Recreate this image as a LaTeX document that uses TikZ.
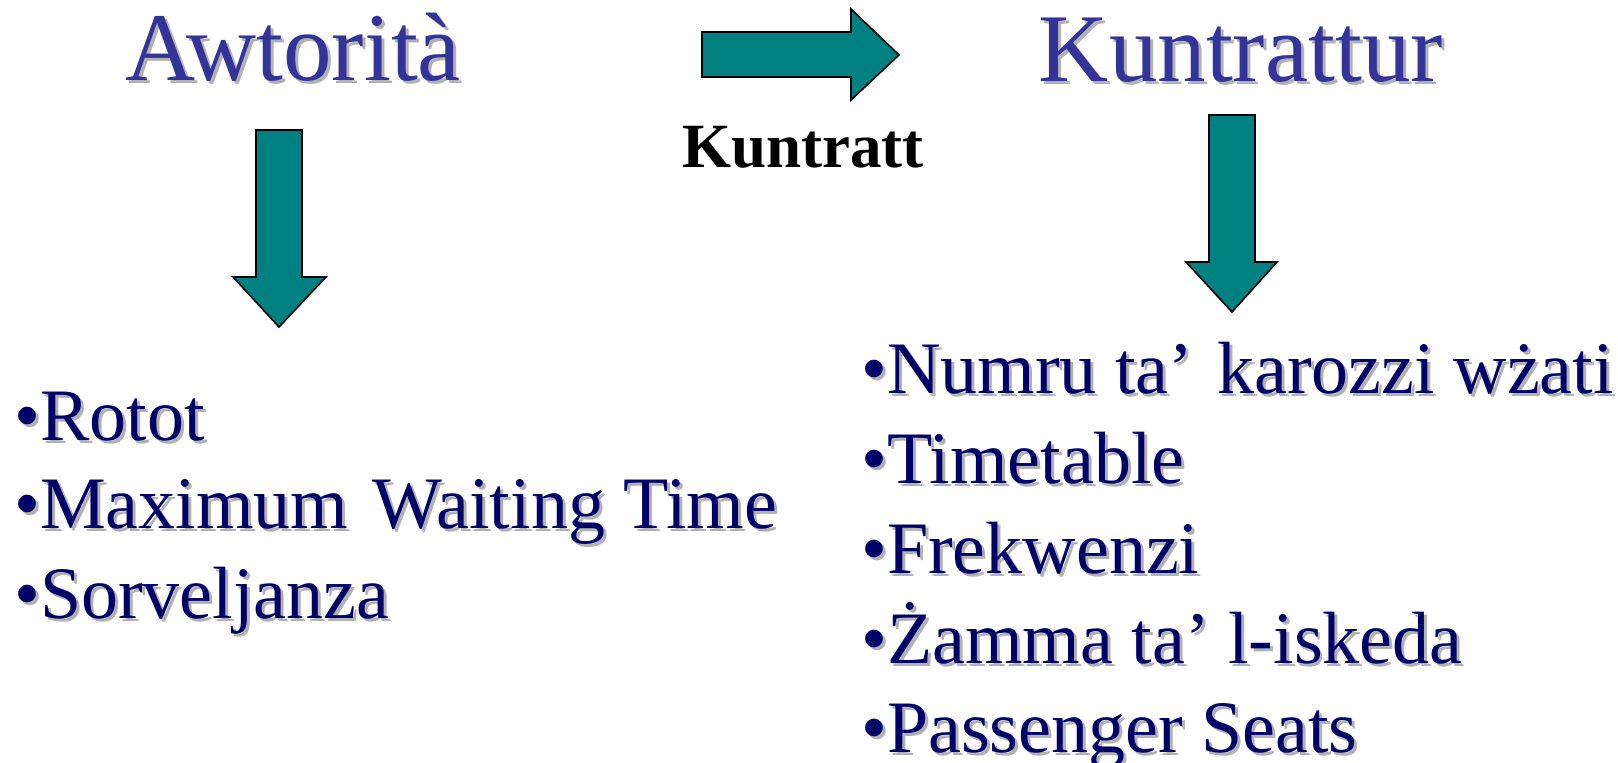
\documentclass[tikz,border=0pt]{standalone}
\usepackage{fontspec}
\setmainfont{Liberation Serif}
\definecolor{titleblue}{HTML}{333399}
\definecolor{navy}{HTML}{000066}
\definecolor{teal}{HTML}{008080}
\definecolor{shadowgray}{HTML}{B2B2B2}
\newcommand\shtext[1]{\rlap{\kern3pt\raisebox{-3pt}{\color{shadowgray}#1}}#1}
\tikzset{
  title/.style={anchor=base, inner sep=0pt, text=titleblue, font=\fontsize{97}{97}\selectfont},
  item/.style={anchor=base west, inner sep=0pt, text=navy, font=\fontsize{74}{74}\selectfont},
  label/.style={anchor=base, inner sep=0pt, text=black, font=\bfseries\fontsize{63}{63}\selectfont},
  bigarrow/.style={fill=teal, draw=black, line width=1.6pt, line join=miter},
}
\begin{document}
\begin{tikzpicture}[x=1pt,y=-1pt]
\useasboundingbox[fill=white] (0,0) rectangle (1618,763);
% titles
\node[title] (awt) at (293,80) {\shtext{Awtorità}};
\node[title] (kun) at (1241,81) {\shtext{Kuntrattur}};
\node[label] (ktt) at (803,167) {Kuntratt};
% arrows
\draw[bigarrow] (702,32) -- (851,32) -- (851,9) -- (899,55) -- (851,100) -- (851,77) -- (702,77) -- cycle;
\draw[bigarrow] (256,130) -- (302,130) -- (302,277) -- (326,277) -- (279,327) -- (233,277) -- (256,277) -- cycle;
\draw[bigarrow] (1209,115) -- (1255,115) -- (1255,262) -- (1277,262) -- (1232,312) -- (1186,262) -- (1209,262) -- cycle;
% left list
\node[item] (l1) at (14,440) {\shtext{•Rotot}};
\node[item] (l2) at (14,528) {\shtext{•Maximum\hspace{24pt}Waiting Time}};
\node[item] (l3) at (14,618) {\shtext{•Sorveljanza}};
% right list
\node[item] (r1) at (861,393) {\shtext{•Numru ta’\hspace{24pt}karozzi wżati}};
\node[item] (r2) at (861,483) {\shtext{•Timetable}};
\node[item] (r3) at (861,573) {\shtext{•Frekwenzi}};
\node[item] (r4) at (861,663) {\shtext{•Żamma ta’ l-iskeda}};
\node[item] (r5) at (861,752) {\shtext{•Passenger Seats}};
\end{tikzpicture}
\end{document}
